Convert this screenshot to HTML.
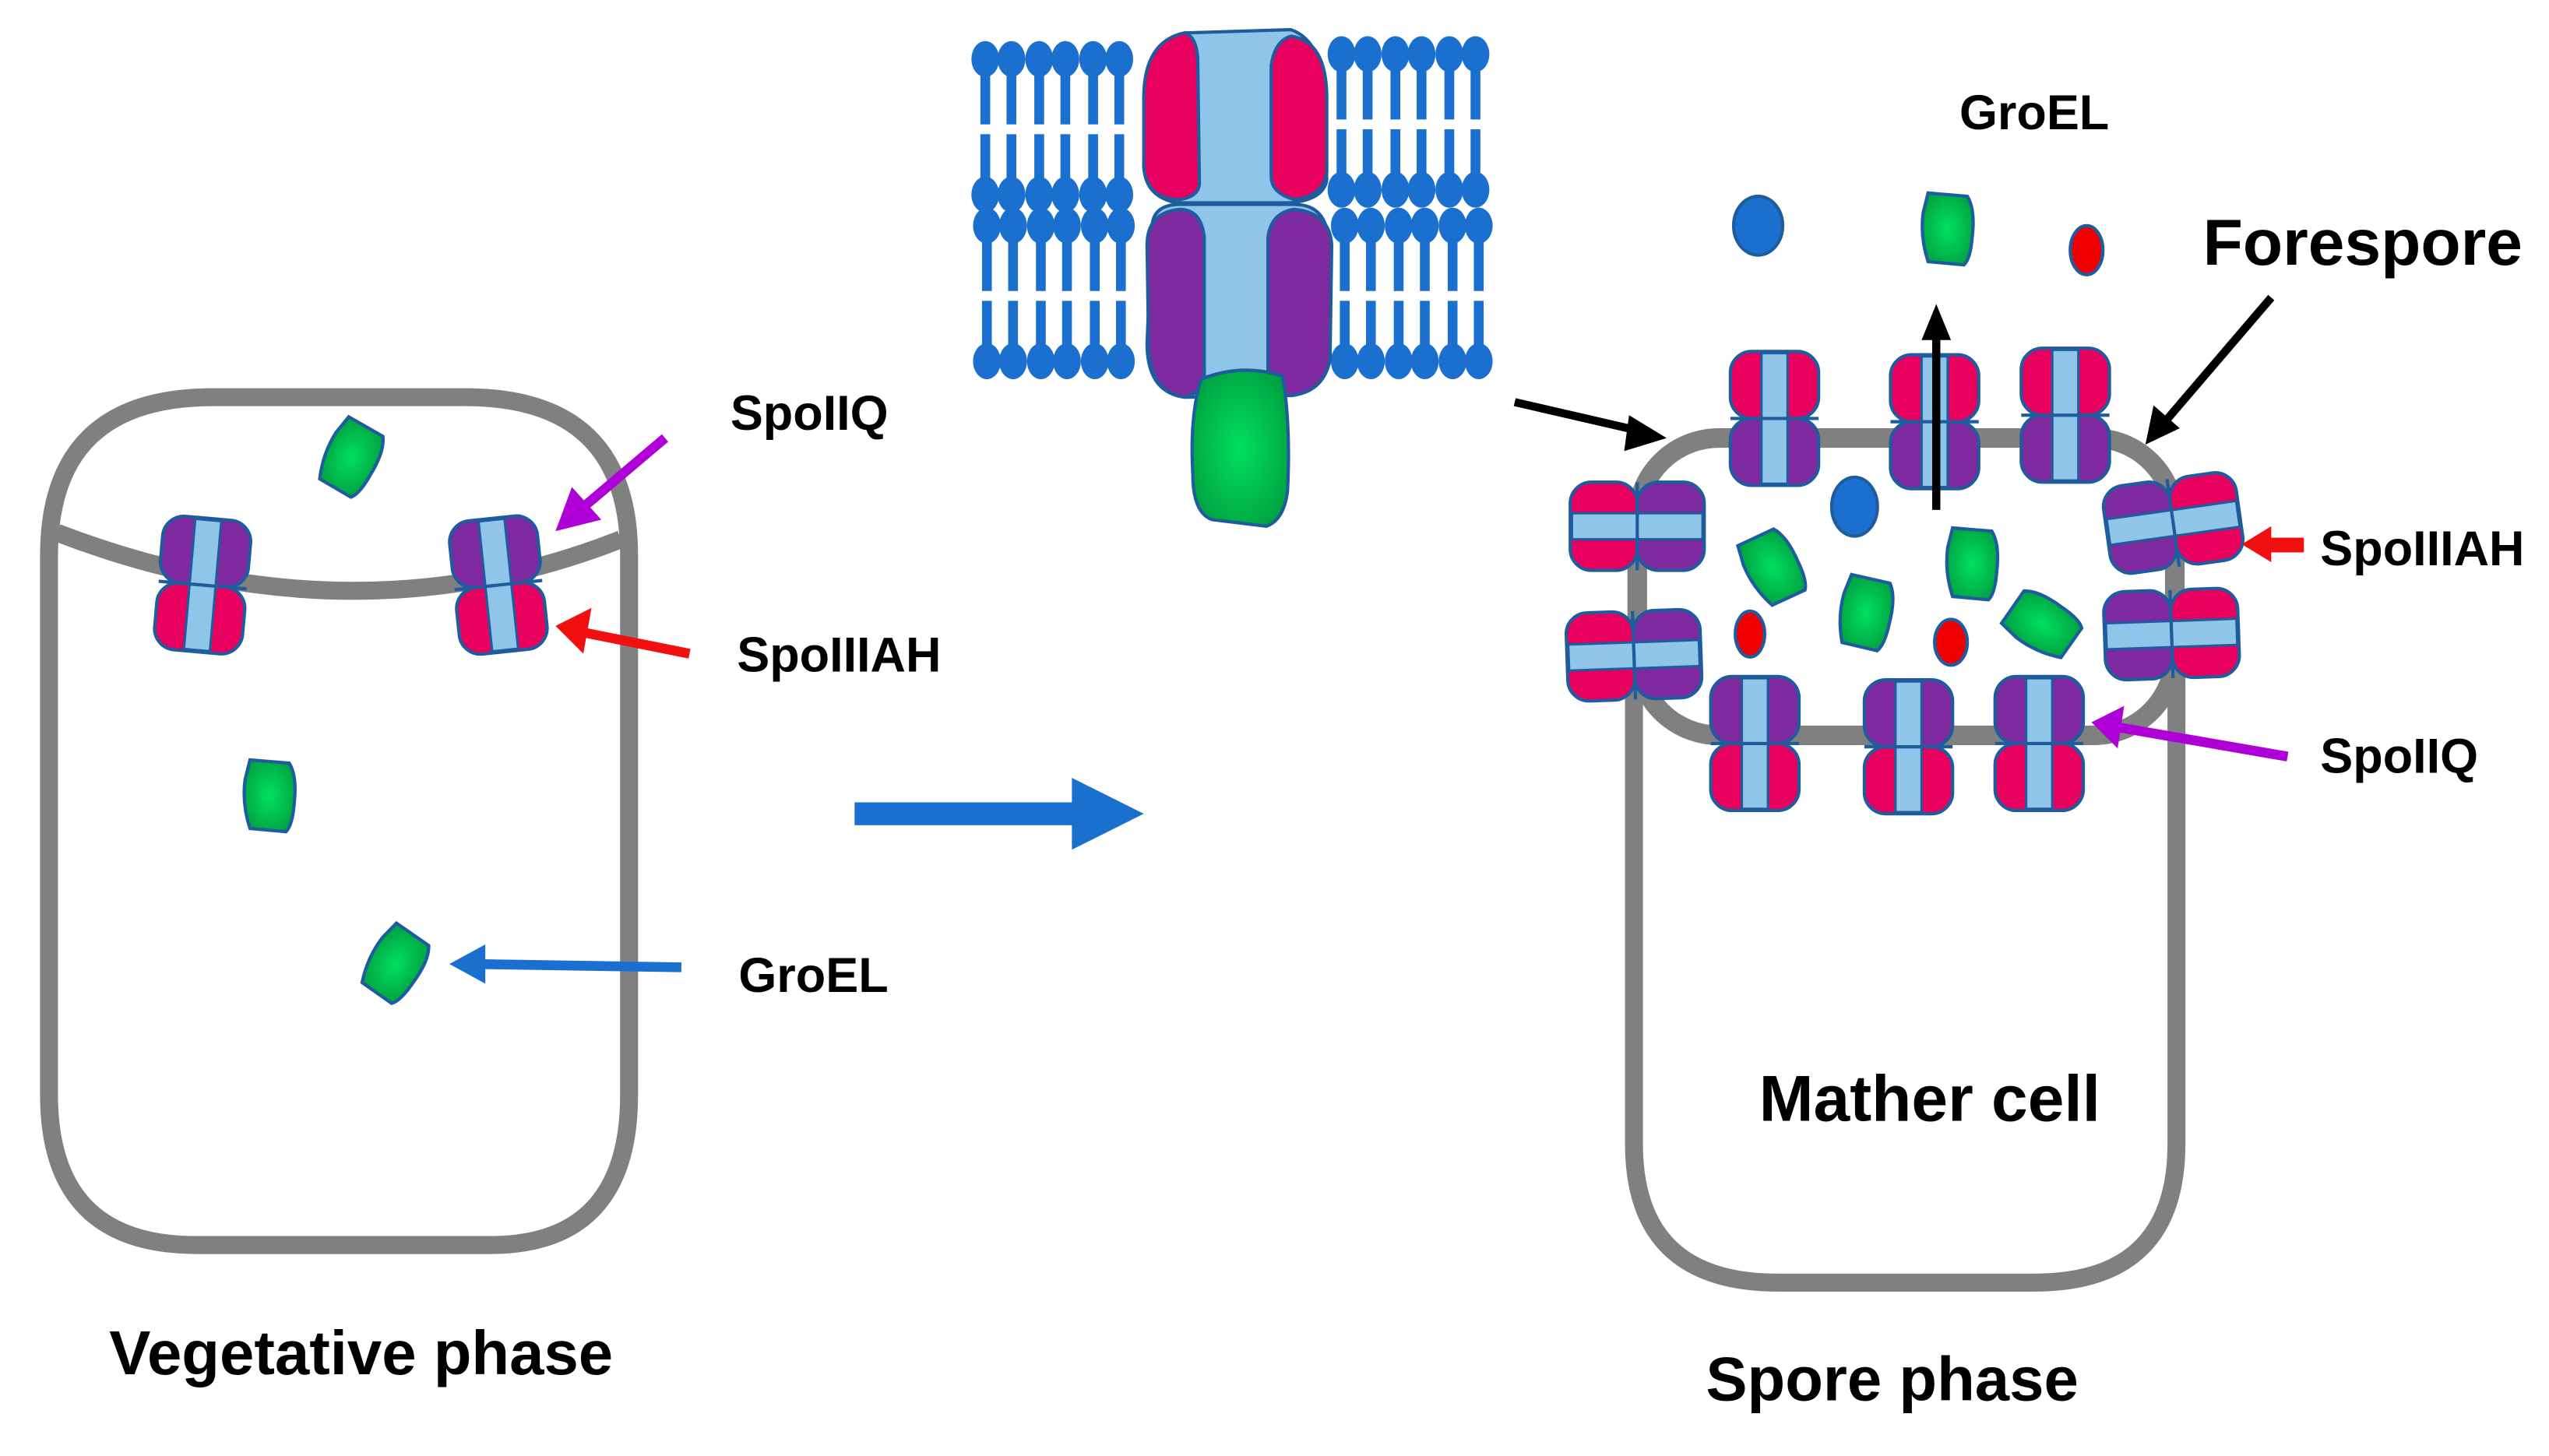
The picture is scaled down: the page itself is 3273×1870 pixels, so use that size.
<!DOCTYPE html>
<html><head><meta charset="utf-8"><style>html,body{margin:0;padding:0;background:#fff}svg{display:block}
text{font-family:"Liberation Sans",Arial,sans-serif;font-weight:bold;fill:#000}</style></head>
<body>
<svg width="3273" height="1870" viewBox="0 0 1560 891" xmlns="http://www.w3.org/2000/svg">
<defs>
<radialGradient id="gg" cx="50%" cy="50%" r="60%"><stop offset="0" stop-color="#00e060"/><stop offset="1" stop-color="#00a040"/></radialGradient>
<g id="chPM">
<rect x="-27" y="-41" width="54" height="41" rx="13" fill="#e8005f" stroke="#1f5c9e" stroke-width="2"/>
<rect x="-27" y="0" width="54" height="41" rx="13" fill="#7e2a9e" stroke="#1f5c9e" stroke-width="2"/>
<rect x="-8" y="-40" width="16" height="80" fill="#8fc5e8" stroke="#1f5c9e" stroke-width="1.5"/>
<line x1="-27" y1="0" x2="27" y2="0" stroke="#1f5c9e" stroke-width="2"/>
</g>
<g id="chMP">
<rect x="-27" y="-41" width="54" height="41" rx="13" fill="#7e2a9e" stroke="#1f5c9e" stroke-width="2"/>
<rect x="-27" y="0" width="54" height="41" rx="13" fill="#e8005f" stroke="#1f5c9e" stroke-width="2"/>
<rect x="-8" y="-40" width="16" height="80" fill="#8fc5e8" stroke="#1f5c9e" stroke-width="1.5"/>
<line x1="-27" y1="0" x2="27" y2="0" stroke="#1f5c9e" stroke-width="2"/>
</g>
<path id="gb" d="M-12,-22 L12,-20 Q17,-12 15,5 Q14,18 10,22 L-12,20 Q-17,5 -15,-10 Z" fill="url(#gg)" stroke="#1f5c9e" stroke-width="2"/>
<g id="lip" fill="#1a6fcf">
<ellipse cx="0" cy="0" rx="8.5" ry="11"/>
<rect x="-3" y="8" width="6" height="32"/>
<rect x="-3" y="46" width="6" height="30"/>
<ellipse cx="0" cy="83" rx="8.5" ry="11"/>
</g>
<g id="bil">
<use href="#lip" x="0"/><use href="#lip" x="16"/><use href="#lip" x="33"/><use href="#lip" x="49"/><use href="#lip" x="66"/><use href="#lip" x="82"/>
</g>
</defs>

<!-- Left cell -->
<path d="M30,340 L30,670 Q30,762 120,762 L300,762 Q385,762 385,670 L385,340 Q385,243 285,243 L130,243 Q30,243 30,340 Z" fill="none" stroke="#808080" stroke-width="11"/>
<path d="M35,326 Q215,395 380,330" fill="none" stroke="#808080" stroke-width="11"/>
<use href="#chMP" transform="translate(124,358) rotate(5)"/>
<use href="#chMP" transform="translate(305,358) rotate(-6)"/>
<use href="#gb" transform="translate(215,280) rotate(25)"/>
<use href="#gb" transform="translate(165,487)"/>
<use href="#gb" transform="translate(242,590) rotate(30)"/>
<text x="447" y="263" font-size="30">SpoIIQ</text>
<text x="451" y="411" font-size="30">SpoIIIAH</text>
<text x="452" y="607" font-size="30">GroEL</text>
<line x1="407" y1="268" x2="355" y2="312" stroke="#b000d8" stroke-width="6"/>
<polygon points="340,325 350,298 368,318" fill="#b000d8"/>
<line x1="422" y1="400" x2="357" y2="387" stroke="#f01010" stroke-width="6"/>
<polygon points="340,383 362,372 357,400" fill="#f01010"/>
<line x1="417" y1="592" x2="292" y2="590" stroke="#1a6fcf" stroke-width="6"/>
<polygon points="275,590 297,578 297,602" fill="#1a6fcf"/>
<text x="221" y="841" font-size="38" text-anchor="middle">Vegetative phase</text>

<!-- big arrow -->
<rect x="523" y="491" width="137" height="14" fill="#1a6fcf"/>
<polygon points="656,476 700,498 656,520" fill="#1a6fcf"/>

<!-- membrane -->
<use href="#bil" x="603" y="36"/>
<use href="#bil" x="604" y="138"/>
<use href="#bil" x="821" y="33"/>
<use href="#bil" x="823" y="138"/>
<path d="M703,60 Q700,25 725,20 L790,18 Q810,25 810,60 L812,110 Q810,122 790,124 L720,124 Q700,120 700,100 Z" fill="#8fc5e8" stroke="#1f5c9e" stroke-width="2"/>
<path d="M725,20 Q700,25 700,60 L700,102 Q702,122 722,122 Q735,120 734,110 L733,35 Q732,22 725,20 Z" fill="#e8005f" stroke="#1f5c9e" stroke-width="2"/>
<path d="M790,22 Q812,25 812,60 L812,105 Q810,120 792,122 Q778,118 778,108 L778,40 Q780,25 790,22 Z" fill="#e8005f" stroke="#1f5c9e" stroke-width="2"/>
<path d="M705,140 Q705,125 722,125 L792,125 Q813,125 813,150 L814,210 Q810,240 790,242 L725,243 Q702,240 702,210 Z" fill="#8fc5e8" stroke="#1f5c9e" stroke-width="2"/>
<path d="M722,128 Q702,130 702,150 L703,215 Q705,240 725,243 Q738,240 737,225 L737,145 Q735,128 722,128 Z" fill="#7e2a9e" stroke="#1f5c9e" stroke-width="2"/>
<path d="M792,128 Q814,130 815,150 L814,220 Q810,240 790,242 Q776,238 776,225 L776,145 Q778,130 792,128 Z" fill="#7e2a9e" stroke="#1f5c9e" stroke-width="2"/>
<path d="M735,232 Q760,222 785,230 Q790,260 788,300 Q786,318 775,322 L742,318 Q730,314 730,290 Q728,255 735,232 Z" fill="url(#gg)" stroke="#1f5c9e" stroke-width="2"/>
<line x1="927" y1="246" x2="1005" y2="264" stroke="#000" stroke-width="5"/>
<polygon points="1020,268 997,254 994,276" fill="#000"/>

<!-- right cell -->
<path d="M1000,400 L1000,700 Q1000,785 1088,785 L1245,785 Q1332,785 1332,700 L1332,400" fill="none" stroke="#808080" stroke-width="11"/>
<rect x="1002" y="268" width="329" height="182" rx="50" fill="none" stroke="#808080" stroke-width="12"/>
<use href="#chPM" transform="translate(1086,256)"/>
<use href="#chPM" transform="translate(1184,258)"/>
<use href="#chPM" transform="translate(1264,254)"/>
<use href="#chMP" transform="translate(1074,455)"/>
<use href="#chMP" transform="translate(1168,457)"/>
<use href="#chMP" transform="translate(1248,455)"/>
<use href="#chPM" transform="translate(1002,322) rotate(-90)"/>
<use href="#chPM" transform="translate(1000,401) rotate(-92)"/>
<use href="#chPM" transform="translate(1330,320) rotate(82)"/>
<use href="#chPM" transform="translate(1329,388) rotate(88)"/>
<ellipse cx="1135" cy="310" rx="14" ry="18" fill="#1a6fcf" stroke="#1f5c9e" stroke-width="2"/>
<use href="#gb" transform="translate(1085,347) rotate(-30)"/>
<use href="#gb" transform="translate(1142,375) rotate(8)"/>
<use href="#gb" transform="translate(1207,345)"/>
<use href="#gb" transform="translate(1250,382) rotate(-60)"/>
<ellipse cx="1071" cy="388" rx="9" ry="14" fill="#f00000" stroke="#1f5c9e" stroke-width="2"/>
<ellipse cx="1194" cy="393" rx="10" ry="14" fill="#f00000" stroke="#1f5c9e" stroke-width="2"/>
<ellipse cx="1076" cy="138" rx="15" ry="18" fill="#1a6fcf" stroke="#1f5c9e" stroke-width="2"/>
<use href="#gb" transform="translate(1192,140)"/>
<ellipse cx="1277" cy="153" rx="10" ry="15" fill="#f00000" stroke="#1f5c9e" stroke-width="2"/>
<line x1="1185" y1="312" x2="1185" y2="205" stroke="#000" stroke-width="5"/>
<polygon points="1185,186 1176,208 1194,208" fill="#000"/>
<text x="1245" y="79" font-size="30" text-anchor="middle">GroEL</text>
<text x="1446" y="162" font-size="40" text-anchor="middle">Forespore</text>
<line x1="1390" y1="182" x2="1325" y2="258" stroke="#000" stroke-width="5"/>
<polygon points="1313,272 1318,248 1334,262" fill="#000"/>
<rect x="1388" y="329" width="22" height="9" fill="#f01010"/>
<polygon points="1372,333 1390,322 1390,344" fill="#f01010"/>
<text x="1420" y="346" font-size="30">SpoIIIAH</text>
<line x1="1400" y1="463" x2="1296" y2="445" stroke="#b000d8" stroke-width="6"/>
<polygon points="1280,442 1300,432 1296,458" fill="#b000d8"/>
<text x="1420" y="473" font-size="30">SpoIIQ</text>
<text x="1181" y="686" font-size="40" text-anchor="middle">Mather cell</text>
<text x="1158" y="857" font-size="38" text-anchor="middle">Spore phase</text>
</svg>
</body></html>
